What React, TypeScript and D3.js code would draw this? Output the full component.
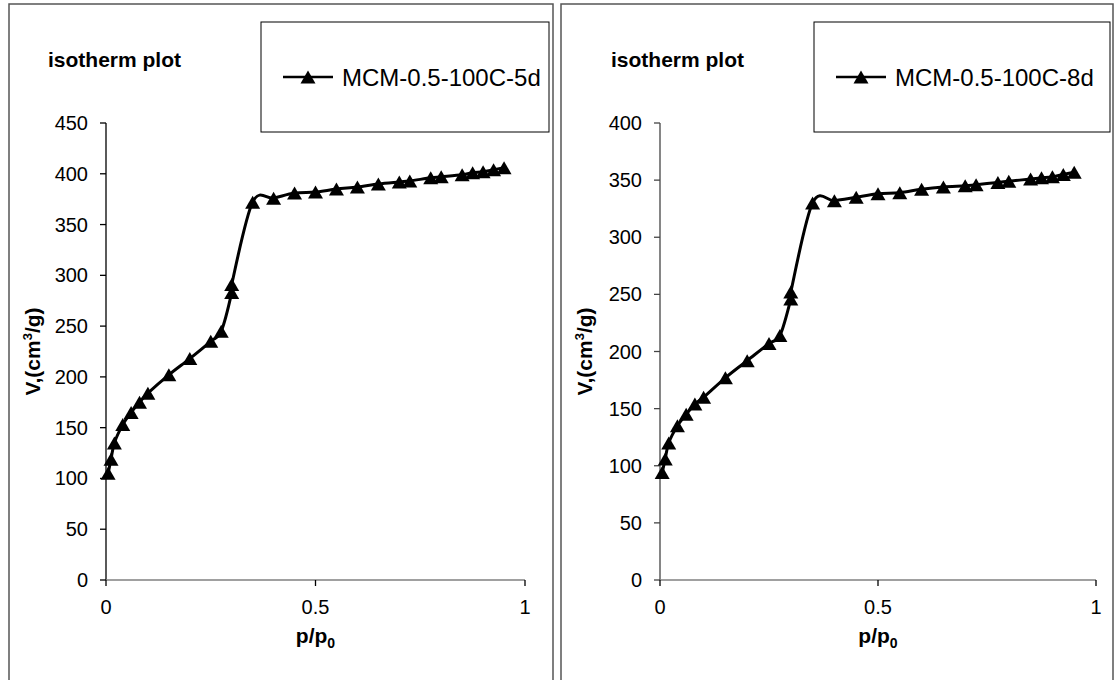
import React from "react";
import * as d3 from "d3";

// ---- data ----
const pressure5d = [0.005, 0.012, 0.02, 0.04, 0.06, 0.08, 0.1, 0.15, 0.2, 0.25, 0.275, 0.3, 0.3, 0.35, 0.4, 0.45, 0.5, 0.55, 0.6, 0.65, 0.7, 0.725, 0.775, 0.8, 0.85, 0.875, 0.9, 0.925, 0.95];
const volume5d = [105, 119, 135, 153, 165, 175, 184, 202, 218, 235, 245, 283, 291, 372, 376, 381, 382, 385, 387, 390, 392, 393, 396, 397, 399, 401, 402, 404, 406];

const pressure8d = [0.005, 0.012, 0.02, 0.04, 0.06, 0.08, 0.1, 0.15, 0.2, 0.25, 0.275, 0.3, 0.3, 0.35, 0.4, 0.45, 0.5, 0.55, 0.6, 0.65, 0.7, 0.725, 0.775, 0.8, 0.85, 0.875, 0.9, 0.925, 0.95];
const volume8d = [94, 106, 120, 135, 145, 154, 160, 177, 192, 207, 214, 246, 252, 330, 332, 335, 338, 339, 342, 344, 345, 346, 348, 349, 351, 352, 353, 355, 357];

const xTicks = [0, 0.5, 1];
const yTicks5d = [0, 50, 100, 150, 200, 250, 300, 350, 400, 450];
const yTicks8d = [0, 50, 100, 150, 200, 250, 300, 350, 400];

const seriesName5d = "MCM-0.5-100C-5d";
const seriesName8d = "MCM-0.5-100C-8d";
const chartTitle = "isotherm plot";

const FONT = "'Liberation Sans', Arial, Helvetica, sans-serif";

type ChartProps = {
  box: { x: number; y: number; w: number; h: number };
  plot: { x0: number; x1: number; y0: number; y1: number };
  legend: { x: number; y: number; w: number; h: number };
  titleX: number;
  yTitleX: number;
  xs: number[];
  ys: number[];
  yTicks: number[];
  name: string;
  yAxisColor: string;
};

const triPath = "M0,-6.5L7.5,6.5L-7.5,6.5Z";

function Chart(p: ChartProps) {
  const yMax = p.yTicks[p.yTicks.length - 1];
  const x = d3.scaleLinear().domain([0, 1]).range([p.plot.x0, p.plot.x1]);
  const y = d3.scaleLinear().domain([0, yMax]).range([p.plot.y1, p.plot.y0]);
  const pts: [number, number][] = p.xs.map((v, i) => [x(v), y(p.ys[i])]);
  const line = d3.line().curve(d3.curveCardinal.tension(0))(pts) || "";
  const lgCy = p.legend.y + p.legend.h / 2;
  const lgX = p.legend.x + 22;
  return (
    <g>
      <rect x={p.box.x} y={p.box.y} width={p.box.w} height={p.box.h} fill="#fff" stroke="#555" strokeWidth={1.5} />
      <text x={p.titleX} y={67} fontFamily={FONT} fontWeight="bold" fontSize={21} fill="#000">{chartTitle}</text>
      {/* legend */}
      <rect x={p.legend.x} y={p.legend.y} width={p.legend.w} height={p.legend.h} fill="#fff" stroke="#000" strokeWidth={1} />
      <line x1={lgX} x2={lgX + 50} y1={lgCy} y2={lgCy} stroke="#000" strokeWidth={2.5} />
      <path d={triPath} transform={`translate(${lgX + 25},${lgCy})`} fill="#000" />
      <text x={lgX + 59} y={lgCy + 8.5} fontFamily={FONT} fontSize={24} fill="#000">{p.name}</text>
      {/* y axis */}
      <line x1={p.plot.x0} x2={p.plot.x0} y1={p.plot.y0} y2={p.plot.y1} stroke={p.yAxisColor} strokeWidth={1.3} />
      {p.yTicks.map((t) => (
        <g key={"y" + t}>
          <line x1={p.plot.x0 - 6} x2={p.plot.x0} y1={y(t)} y2={y(t)} stroke={p.yAxisColor} strokeWidth={1.3} />
          <text x={p.plot.x0 - 18} y={y(t) + 7} textAnchor="end" fontFamily={FONT} fontSize={20} fill="#000">{t}</text>
        </g>
      ))}
      {/* x axis */}
      <line x1={p.plot.x0} x2={p.plot.x1} y1={p.plot.y1} y2={p.plot.y1} stroke="#808080" strokeWidth={1.5} />
      {xTicks.map((t) => (
        <g key={"x" + t}>
          <line x1={x(t)} x2={x(t)} y1={p.plot.y1} y2={p.plot.y1 + 6} stroke="#000" strokeWidth={1.3} />
          <text x={x(t)} y={p.plot.y1 + 34} textAnchor="middle" fontFamily={FONT} fontSize={20} fill="#000">{t}</text>
        </g>
      ))}
      <text x={(p.plot.x0 + p.plot.x1) / 2} y={643} textAnchor="middle" fontFamily={FONT} fontWeight="bold" fontSize={21} fill="#000">
        p/p<tspan fontSize={14} dy={5}>0</tspan>
      </text>
      <text transform={`translate(${p.yTitleX},${(p.plot.y0 + p.plot.y1) / 2}) rotate(-90)`} textAnchor="middle" fontFamily={FONT} fontWeight="bold" fontSize={21} fill="#000">
        V,(cm<tspan fontSize={13} dy={-8}>3</tspan><tspan dy={8}>/g)</tspan>
      </text>
      {/* series */}
      <path d={line} fill="none" stroke="#000" strokeWidth={3} strokeLinejoin="round" />
      {pts.map(([cx, cy], i) => (
        <path key={i} d={triPath} transform={`translate(${cx},${cy})`} fill="#000" />
      ))}
    </g>
  );
}

export default function App() {
  return (
    <svg width={1115} height={680} style={{ position: "absolute", left: 0, top: 0, background: "#fff" }}>
      <rect x={0} y={0} width={1115} height={680} fill="#fff" />
      <Chart
        box={{ x: 9, y: 4, w: 544, h: 700 }}
        plot={{ x0: 106, x1: 525, y0: 123, y1: 580 }}
        legend={{ x: 261, y: 22, w: 288, h: 110 }}
        titleX={48}
        yTitleX={40}
        xs={pressure5d}
        ys={volume5d}
        yTicks={yTicks5d}
        name={seriesName5d}
        yAxisColor="#000"
      />
      <Chart
        box={{ x: 561, y: 4, w: 552, h: 700 }}
        plot={{ x0: 660, x1: 1096, y0: 123, y1: 580 }}
        legend={{ x: 814, y: 22, w: 296, h: 110 }}
        titleX={611}
        yTitleX={592}
        xs={pressure8d}
        ys={volume8d}
        yTicks={yTicks8d}
        name={seriesName8d}
        yAxisColor="#444"
      />
    </svg>
  );
}
